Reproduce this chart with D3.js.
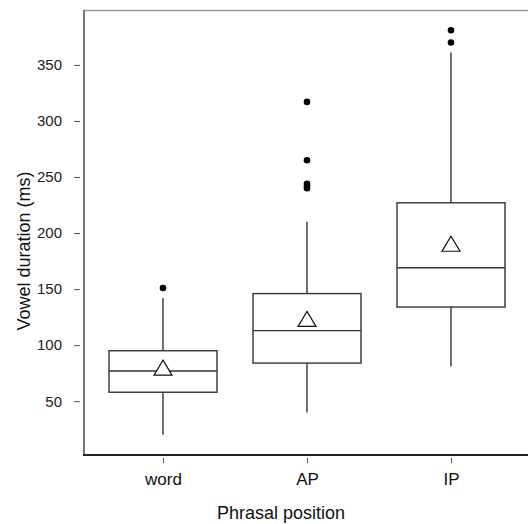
<!DOCTYPE html>
<html>
<head>
<meta charset="utf-8">
<script src="https://cdn.jsdelivr.net/npm/d3@7"></script>
<style>
  body { margin: 0; background: #fff; }
  text { font-family: "Liberation Sans", Arial, sans-serif; }
</style>
</head>
<body>
<svg id="chart" width="528" height="524"></svg>
<script>
// phrasal positions
const categories = ["word", "AP", "IP"]
// box stats (ms)
const q1 = [58, 84, 134]
const medians = [77, 113, 169]
const q3 = [95, 146, 227]
const whiskerLow = [20, 40, 81]
const whiskerHigh = [142, 210, 361]
const means = [79.5, 123, 190]
// outliers per category
const outliers = [
  [151],
  [317, 265, 244, 242, 240],
  [381, 370]
]
const yTicks = [50, 100, 150, 200, 250, 300, 350]

let svg = d3.select("#chart")

//scales
let x = d3.scalePoint().domain(categories).range([163, 451])
let y = d3.scaleLinear().domain([2, 399]).range([455, 10])
let bw = 108

//frame: top line
svg.append("line").attr("x1", 83).attr("x2", 528).attr("y1", 10.5).attr("y2", 10.5)
  .attr("stroke", "#999").attr("stroke-width", 1.5)

//y axis
let yAxis = svg.append("g").attr("transform", "translate(84,0)")
  .call(d3.axisLeft(y).tickValues(yTicks).tickSize(6).tickPadding(16))
yAxis.select(".domain").remove()
yAxis.selectAll(".tick line").attr("stroke", "#555").attr("transform", "translate(-4,0)")
yAxis.selectAll(".tick text").attr("font-size", 15).attr("fill", "#222")
  .attr("font-family", "'Liberation Sans', Arial, sans-serif")
svg.append("line").attr("x1", 84).attr("x2", 84).attr("y1", 10).attr("y2", 455)
  .attr("stroke", "#777").attr("stroke-width", 2)

//x axis
let xAxis = svg.append("g").attr("transform", "translate(0,458)")
  .call(d3.axisBottom(x).tickSize(5).tickPadding(10))
xAxis.select(".domain").remove()
xAxis.selectAll(".tick line").attr("stroke", "#555")
xAxis.selectAll(".tick text").attr("font-size", 17).attr("fill", "#111")
  .attr("font-family", "'Liberation Sans', Arial, sans-serif")
svg.append("line").attr("x1", 83).attr("x2", 528).attr("y1", 455).attr("y2", 455)
  .attr("stroke", "#222").attr("stroke-width", 2)

//axis titles
svg.append("text").attr("x", 281).attr("y", 519).attr("text-anchor", "middle")
  .attr("font-size", 18).attr("fill", "#111").text("Phrasal position")
svg.append("text").attr("transform", "translate(30,251) rotate(-90)")
  .attr("text-anchor", "middle").attr("font-size", 18).attr("fill", "#111")
  .text("Vowel duration (ms)")

//boxes
let boxes = svg.append("g").attr("stroke", "#333").attr("stroke-width", 1.4).attr("fill", "none")
categories.forEach((c, i) => {
  let cx = x(c)
  let g = boxes.append("g")
  g.append("line").attr("x1", cx).attr("x2", cx).attr("y1", y(q3[i])).attr("y2", y(whiskerHigh[i]))
  g.append("line").attr("x1", cx).attr("x2", cx).attr("y1", y(q1[i])).attr("y2", y(whiskerLow[i]))
  g.append("rect").attr("x", cx - bw / 2).attr("width", bw)
    .attr("y", y(q3[i])).attr("height", y(q1[i]) - y(q3[i])).attr("fill", "#fff")
  g.append("line").attr("x1", cx - bw / 2).attr("x2", cx + bw / 2)
    .attr("y1", y(medians[i])).attr("y2", y(medians[i]))
  //mean triangle
  let ty = y(means[i])
  g.append("path")
    .attr("d", `M${cx},${ty - 8} L${cx + 9},${ty + 7} L${cx - 9},${ty + 7} Z`)
    .attr("fill", "#fff").attr("stroke", "#111").attr("stroke-width", 1.2)
  //outliers
  g.selectAll("circle").data(outliers[i]).enter().append("circle")
    .attr("cx", cx).attr("cy", d => y(d)).attr("r", 3.3)
    .attr("fill", "#000").attr("stroke", "none")
})
</script>
</body>
</html>
